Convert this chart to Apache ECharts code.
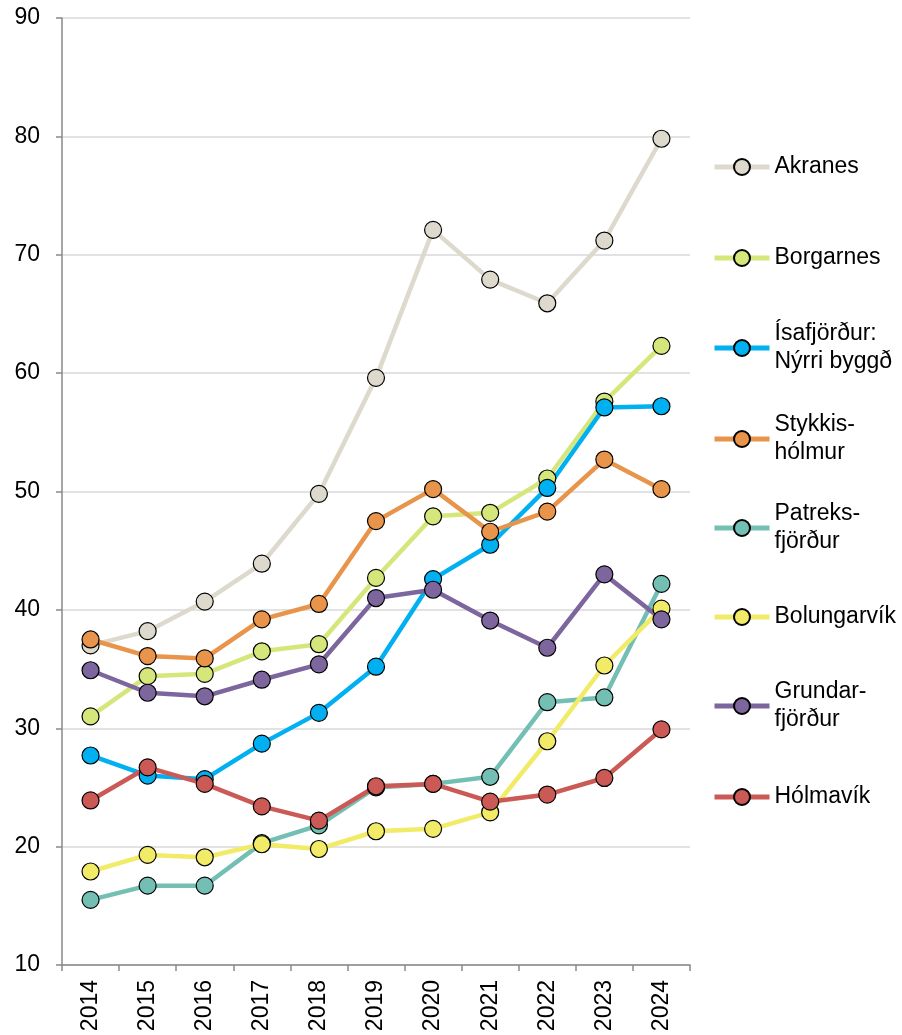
<!DOCTYPE html>
<html>
<head>
<meta charset="utf-8">
<script src="https://cdn.jsdelivr.net/npm/echarts@6/dist/echarts.min.js"></script>
<style>
  html, body { margin: 0; padding: 0; background: #ffffff; }
  #chart { width: 902px; height: 1035px; }
</style>
</head>
<body>
<div id="chart"></div>
<script>
// Years on the category axis
const years = ['2014', '2015', '2016', '2017', '2018', '2019', '2020', '2021', '2022', '2023', '2024'];

// Town names (legend text, with manual line breaks)
const towns = [
  'Akranes',
  'Borgarnes',
  'Ísafjörður:\nNýrri byggð',
  'Stykkis-\nhólmur',
  'Patreks-\nfjörður',
  'Bolungarvík',
  'Grundar-\nfjörður',
  'Hólmavík'
];

// Values per town, 2014–2024
const akranes        = [37.0, 38.2, 40.7, 43.9, 49.8, 59.6, 72.1, 67.9, 65.9, 71.2, 79.8];
const borgarnes      = [31.0, 34.4, 34.6, 36.5, 37.1, 42.7, 47.9, 48.2, 51.1, 57.6, 62.3];
const isafjordur     = [27.7, 26.0, 25.7, 28.7, 31.3, 35.2, 42.6, 45.5, 50.3, 57.1, 57.2];
const stykkisholmur  = [37.5, 36.1, 35.9, 39.2, 40.5, 47.5, 50.2, 46.6, 48.3, 52.7, 50.2];
const patreksfjordur = [15.5, 16.7, 16.7, 20.3, 21.8, 25.0, 25.3, 25.9, 32.2, 32.6, 42.2];
const bolungarvik    = [17.9, 19.3, 19.1, 20.2, 19.8, 21.3, 21.5, 22.9, 28.9, 35.3, 40.1];
const grundarfjordur = [34.9, 33.0, 32.7, 34.1, 35.4, 41.0, 41.7, 39.1, 36.8, 43.0, 39.2];
const holmavik       = [23.9, 26.7, 25.3, 23.4, 22.2, 25.1, 25.3, 23.8, 24.4, 25.8, 29.9];

// Y-axis range
const yMin = 10;
const yMax = 90;
const yStep = 10;

const seriesValues = [akranes, borgarnes, isafjordur, stykkisholmur, patreksfjordur, bolungarvik, grundarfjordur, holmavik];
const colors = ['#DDD9CD', '#D5E77A', '#00B0F0', '#E8944A', '#74BFB3', '#F1EB68', '#7D669E', '#CB5A57'];

// Vertical centre of each legend entry's marker
const legendCenters = [167, 258, 348, 439, 528, 617, 706, 797];

const FONT = '"Liberation Sans", Arial, sans-serif';

const chart = echarts.init(document.getElementById('chart'), null, { renderer: 'canvas' });

const legends = towns.map((name, i) => {
  const twoLines = name.indexOf('\n') >= 0;
  return {
    data: [name],
    orient: 'vertical',
    left: 712,
    top: legendCenters[i] - (twoLines ? 42 : 14),
    padding: 0,
    itemWidth: 55,
    itemHeight: 20,
    itemGap: 0,
    selectedMode: false,
    lineStyle: { width: 5 },
    textStyle: {
      fontFamily: FONT,
      fontSize: 23,
      color: '#000000',
      lineHeight: 28,
      padding: twoLines ? [28, 0, 0, 0] : 0
    }
  };
});

const series = towns.map((name, i) => ({
  name: name,
  type: 'line',
  data: seriesValues[i],
  symbol: 'circle',
  symbolSize: 17,
  showAllSymbol: true,
  lineStyle: { color: colors[i], width: 4.5 },
  itemStyle: { color: colors[i], borderColor: '#000000', borderWidth: 1.2 },
  emphasis: { disabled: true },
  animation: false
}));

chart.setOption({
  backgroundColor: '#ffffff',
  animation: false,
  grid: { left: 62, right: 212, top: 18, bottom: 70, containLabel: false },
  legend: legends,
  xAxis: {
    type: 'category',
    data: years,
    boundaryGap: true,
    axisLine: { show: true, lineStyle: { color: '#898989', width: 1.5 } },
    axisTick: { show: true, length: 6, lineStyle: { color: '#898989', width: 1.5 } },
    axisLabel: {
      rotate: 90,
      margin: 15,
      fontFamily: FONT,
      fontSize: 23,
      color: '#000000'
    },
    splitLine: { show: false }
  },
  yAxis: {
    type: 'value',
    min: yMin,
    max: yMax,
    interval: yStep,
    axisLine: { show: true, lineStyle: { color: '#898989', width: 1.5 } },
    axisTick: { show: true, length: 6, lineStyle: { color: '#898989', width: 1.5 } },
    axisLabel: {
      margin: 22,
      fontFamily: FONT,
      fontSize: 23,
      color: '#000000'
    },
    splitLine: { show: true, lineStyle: { color: '#D9D9D9', width: 1.5 } }
  },
  series: series
});
</script>
</body>
</html>
